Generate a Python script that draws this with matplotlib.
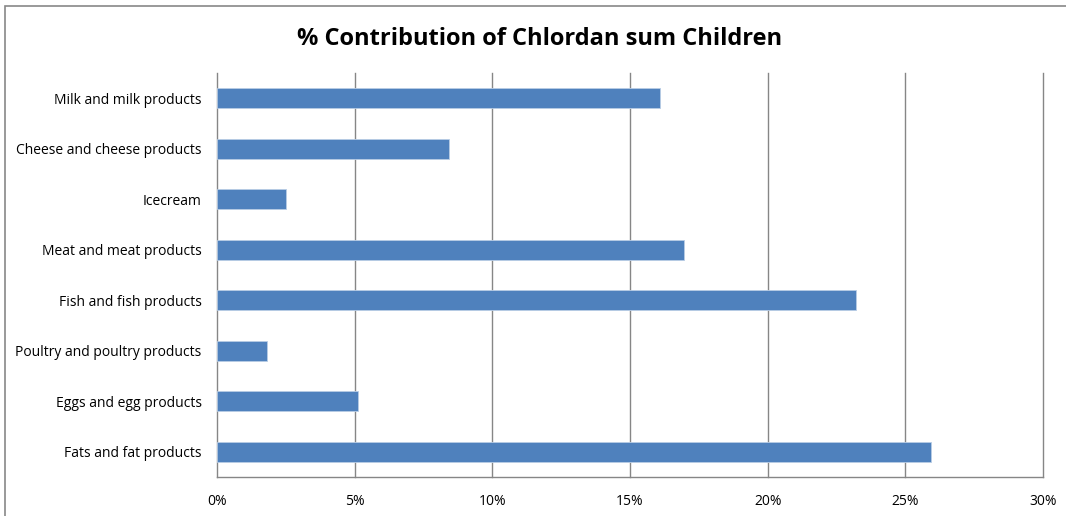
import matplotlib
matplotlib.use("Agg")
import matplotlib.pyplot as plt
from matplotlib.patches import Rectangle
from matplotlib.ticker import FuncFormatter

categories = ["Milk and milk products", "Cheese and cheese products", "Icecream",
              "Meat and meat products", "Fish and fish products",
              "Poultry and poultry products", "Eggs and egg products", "Fats and fat products"]
values = [16.09, 8.43, 2.51, 16.96, 23.21, 1.82, 5.12, 25.94]
xticks = [0, 5, 10, 15, 20, 25, 30]

plt.rcParams['font.family'] = ['Open Sans', 'DejaVu Sans']

W, H = 1066, 516
fig = plt.figure(figsize=(W/100, H/100), dpi=100)
# outer chart frame (extends past the right and bottom edges)
fig.patches.append(Rectangle((5/W, -0.05), 1.2, 1 - 6/H + 0.05, transform=fig.transFigure,
                             fill=False, edgecolor="#888888", lw=1.2))

ax = fig.add_axes([217/W, 1 - 477/H, (1043-217)/W, (477-73)/H])
ypos = list(range(len(categories)))[::-1]
ax.barh(ypos, values, height=0.4, color="#4F81BD", edgecolor="#B9CDE5", lw=0.6, zorder=3)
ax.set_ylim(-0.5, len(categories) - 0.5)
ax.set_xlim(0, 30)
ax.set_xticks(xticks)
ax.xaxis.set_major_formatter(FuncFormatter(lambda v, p: f"{v:.0f}%"))
ax.set_yticks(ypos)
ax.set_yticklabels(categories)
for t in xticks[1:]:
    ax.axvline(t, color="#868686", lw=1, zorder=0, clip_on=False)
ax.tick_params(axis="both", length=0, labelsize=10, colors="black")
ax.tick_params(axis="x", pad=12)
ax.tick_params(axis="y", pad=11)
for s in ["top", "right"]:
    ax.spines[s].set_visible(False)
for s in ["left", "bottom"]:
    ax.spines[s].set_color("#868686")
    ax.spines[s].set_linewidth(1)

fig.text(540/W, 1 - 39/H, "% Contribution of Chlordan sum Children", ha="center", va="center",
         fontsize=17, fontweight="bold")

fig.savefig("out.png", dpi=100)
